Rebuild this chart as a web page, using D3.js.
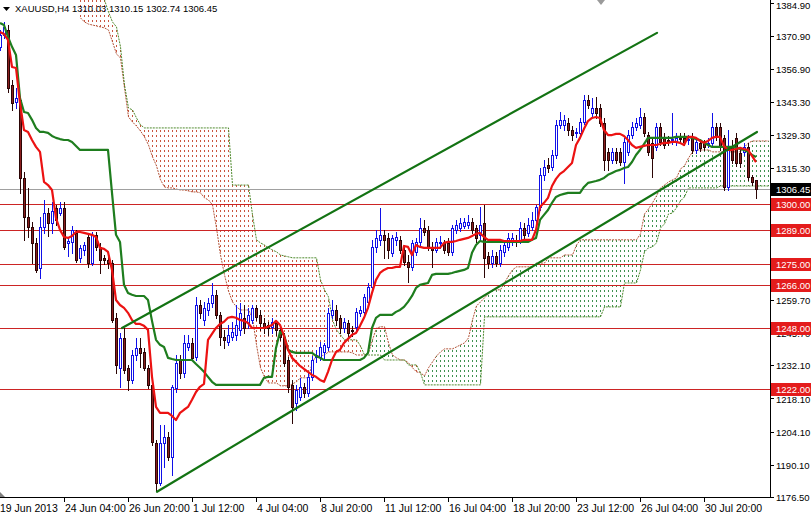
<!DOCTYPE html>
<html><head><meta charset="utf-8">
<script src="https://cdn.jsdelivr.net/npm/d3@7"></script>
<style>html,body{margin:0;padding:0;background:#fff;}svg{display:block;}</style>
</head><body>
<svg id="chart" width="811" height="517"></svg>
<script>
const symbolTitle = "XAUUSD,H4";
const lastOHLC = [1310.03, 1310.15, 1302.74, 1306.45];

const open = [
1366.4,1371.4,1373.5,1350.3,1343.2,1344.0,1311.1,1294.7,1290.4,1283.7,
1273.1,1290.4,1296.3,1292.1,1298.5,1296.3,1298.5,1283.7,1284.1,1287.9,
1277.4,1280.7,1286.2,1275.2,1287.1,1282.0,1277.4,1276.5,1275.2,1252.1,
1231.0,1243.6,1231.0,1225.9,1236.4,1239.4,1237.7,1231.0,1223.8,1199.3,
1182.5,1199.3,1201.9,1193.4,1222.5,1234.3,1228.9,1239.8,1241.5,1235.6,
1257.5,1251.2,1255.4,1258.4,1261.8,1253.3,1244.0,1241.9,1244.0,1244.9,
1247.0,1252.1,1249.9,1251.2,1256.3,1253.3,1249.9,1249.1,1248.3,1249.9,
1247.0,1244.0,1234.3,1223.8,1216.2,1218.7,1223.0,1220.4,1227.2,1235.6,
1235.6,1237.7,1239.8,1253.3,1255.4,1252.1,1247.8,1249.9,1247.0,1248.3,
1254.2,1254.6,1258.8,1265.1,1282.0,1285.0,1287.1,1285.8,1279.5,1285.0,
1285.0,1280.7,1275.7,1273.6,1279.9,1284.1,1290.0,1289.2,1282.0,1280.7,
1283.7,1283.7,1283.7,1279.9,1289.2,1290.0,1290.9,1291.3,1292.5,1290.0,
1287.1,1292.1,1278.2,1275.2,1278.2,1275.2,1279.9,1282.0,1285.0,1285.0,
1285.0,1290.0,1287.9,1290.4,1293.4,1298.9,1312.4,1316.6,1315.7,1320.8,
1333.5,1333.5,1334.3,1331.3,1330.1,1330.1,1334.7,1344.0,1338.5,1340.6,
1340.6,1334.3,1322.1,1318.7,1322.1,1322.1,1317.8,1322.1,1329.2,1332.6,
1333.5,1336.8,1329.2,1325.9,1324.2,1332.6,1328.4,1327.1,1327.1,1326.7,
1328.0,1328.0,1327.1,1328.0,1322.9,1325.9,1325.9,1325.4,1325.9,1332.6,
1332.6,1328.0,1307.3,1324.2,1328.0,1321.6,1322.1,1324.2,1311.5,1310.03];
const high = [
1373.5,1376.9,1375.6,1352.4,1349.1,1344.8,1313.6,1306.9,1292.5,1285.8,
1294.7,1301.8,1298.5,1301.0,1299.7,1301.0,1301.0,1286.2,1290.9,1289.2,
1282.8,1284.1,1287.1,1288.3,1288.3,1283.7,1278.6,1278.2,1276.5,1254.2,
1245.7,1247.8,1232.2,1238.6,1243.6,1243.6,1239.4,1232.2,1223.8,1200.6,
1206.9,1206.9,1204.0,1223.8,1236.4,1236.4,1244.9,1244.9,1243.6,1260.9,
1259.6,1258.8,1260.5,1266.8,1263.9,1254.6,1247.0,1249.1,1250.4,1257.5,
1258.4,1257.5,1256.3,1257.5,1257.5,1255.4,1252.1,1250.4,1252.1,1251.2,
1248.7,1245.7,1235.6,1225.9,1223.8,1226.8,1224.6,1228.9,1236.0,1238.6,
1241.9,1241.5,1256.3,1259.6,1257.5,1253.3,1252.1,1251.2,1248.7,1256.3,
1257.1,1262.2,1266.8,1285.0,1289.2,1298.5,1289.2,1287.9,1287.1,1288.3,
1286.6,1282.8,1278.6,1285.0,1285.8,1294.2,1293.4,1290.9,1284.1,1285.8,
1286.6,1285.0,1285.8,1291.3,1293.4,1294.2,1294.2,1295.5,1294.2,1291.3,
1298.9,1299.7,1279.9,1280.7,1279.9,1282.8,1285.0,1287.9,1287.9,1287.1,
1292.5,1292.1,1294.2,1296.8,1299.7,1315.3,1318.7,1319.5,1322.9,1335.6,
1338.9,1337.7,1336.4,1333.0,1332.2,1336.4,1346.1,1346.1,1344.8,1345.2,
1342.3,1336.4,1323.8,1323.8,1323.8,1323.8,1328.0,1331.3,1334.7,1336.4,
1340.6,1338.5,1330.5,1328.0,1334.3,1334.3,1330.1,1328.8,1338.5,1330.1,
1330.1,1330.1,1329.2,1330.1,1328.0,1327.1,1327.1,1328.0,1338.5,1334.3,
1334.3,1329.2,1331.3,1327.1,1330.1,1323.8,1325.9,1325.9,1312.4,1310.15];
const low = [
1365.1,1370.2,1347.4,1339.8,1340.6,1304.8,1285.0,1286.2,1275.2,1271.5,
1268.9,1287.9,1286.6,1287.9,1291.3,1295.5,1281.2,1278.2,1279.5,1275.7,
1275.7,1278.6,1273.6,1274.4,1280.7,1271.0,1274.8,1273.1,1250.4,1228.9,
1223.0,1228.9,1221.7,1224.6,1234.3,1231.4,1230.1,1222.5,1198.5,1179.5,
1181.6,1189.2,1192.2,1185.8,1220.8,1226.8,1227.2,1238.6,1234.3,1234.3,
1252.1,1249.1,1253.3,1256.7,1252.1,1240.7,1239.4,1240.7,1242.8,1242.8,
1244.9,1245.7,1247.8,1249.9,1251.2,1247.0,1245.7,1244.9,1245.7,1244.9,
1242.8,1231.8,1220.8,1207.8,1213.3,1217.5,1218.7,1219.2,1225.9,1233.5,
1234.3,1234.3,1238.6,1252.1,1249.1,1245.7,1246.2,1244.5,1244.5,1247.0,
1252.9,1253.3,1257.5,1263.9,1279.9,1282.8,1277.4,1277.4,1278.2,1282.8,
1279.5,1274.4,1267.2,1272.3,1278.6,1282.8,1287.1,1280.7,1273.6,1279.9,
1281.6,1279.5,1278.6,1278.6,1287.9,1288.7,1290.0,1290.0,1287.9,1284.1,
1285.0,1269.3,1273.1,1273.6,1274.0,1274.0,1278.2,1280.7,1282.8,1282.4,
1283.7,1285.0,1286.6,1289.2,1292.1,1297.6,1310.3,1313.6,1314.5,1319.5,
1332.2,1331.3,1329.2,1327.1,1328.4,1328.8,1334.0,1340.6,1337.2,1336.4,
1333.0,1314.5,1314.5,1317.4,1317.4,1316.6,1309.0,1320.8,1328.0,1331.3,
1332.2,1328.8,1320.8,1311.5,1322.9,1325.0,1323.8,1325.0,1325.4,1325.0,
1326.3,1325.0,1325.4,1321.6,1321.6,1322.5,1322.9,1324.2,1324.6,1327.1,
1322.9,1306.0,1306.0,1317.4,1316.1,1315.7,1320.8,1310.3,1308.2,1302.74];
const close = [
1371.4,1374.8,1349.1,1342.7,1344.8,1311.1,1294.7,1290.4,1283.7,1272.3,
1290.4,1296.3,1292.1,1297.2,1293.4,1298.5,1282.0,1284.5,1289.2,1276.5,
1281.6,1282.8,1275.2,1287.1,1282.0,1276.5,1276.5,1275.2,1251.2,1232.2,
1243.6,1230.1,1225.9,1236.4,1239.4,1237.3,1231.0,1223.8,1199.8,1182.5,
1199.3,1201.9,1193.4,1223.0,1233.1,1228.9,1241.5,1241.5,1235.2,1257.5,
1254.2,1256.3,1258.4,1261.8,1253.3,1244.0,1242.8,1244.9,1246.2,1249.1,
1254.2,1247.8,1253.3,1256.3,1252.5,1249.9,1247.8,1247.8,1250.4,1247.0,
1244.0,1233.1,1223.0,1214.5,1221.7,1223.0,1220.4,1227.2,1234.3,1236.4,
1239.8,1240.7,1254.2,1255.4,1251.2,1247.8,1250.4,1245.7,1246.6,1254.6,
1255.4,1260.9,1265.1,1282.0,1285.8,1287.1,1285.0,1280.7,1285.8,1286.2,
1280.7,1275.7,1273.6,1283.7,1284.1,1290.0,1288.3,1282.0,1280.7,1284.1,
1284.1,1280.7,1279.9,1290.0,1291.3,1292.1,1292.5,1292.5,1289.2,1285.8,
1291.3,1277.4,1275.2,1278.2,1275.2,1280.7,1282.8,1285.8,1285.8,1284.5,
1290.0,1287.1,1291.3,1293.4,1298.9,1312.4,1315.7,1315.3,1320.8,1333.5,
1335.6,1335.6,1331.3,1329.2,1330.5,1334.7,1344.0,1341.9,1340.6,1338.5,
1334.3,1318.7,1318.7,1322.1,1318.7,1317.8,1326.3,1329.2,1332.6,1334.3,
1336.8,1330.1,1322.1,1319.5,1332.6,1326.3,1325.0,1326.7,1327.5,1328.0,
1327.5,1326.3,1327.5,1322.9,1326.3,1323.8,1324.2,1325.9,1332.6,1328.4,
1324.2,1307.3,1324.2,1318.7,1317.4,1317.4,1324.2,1311.5,1309.4,1306.45];

const tenkan = [
1372.7,1371.8,1369.3,1357.9,1357.5,1342.7,1331.3,1330.5,1327.1,1324.2,
1322.1,1309.4,1308.1,1306.0,1294.2,1289.2,1286.2,1285.8,1286.6,1288.3,
1288.3,1287.9,1287.5,1287.1,1286.2,1281.6,1281.2,1279.9,1272.3,1259.6,
1257.5,1256.3,1254.2,1251.2,1249.5,1249.5,1248.7,1247.0,1227.2,1214.5,
1212.0,1212.0,1212.0,1210.7,1209.0,1212.0,1213.3,1214.5,1217.5,1220.8,
1223.0,1224.2,1242.8,1245.3,1247.8,1249.5,1250.4,1252.1,1252.5,1252.1,
1251.2,1250.8,1249.9,1247.8,1247.8,1247.8,1247.8,1248.3,1249.1,1250.8,
1249.1,1244.5,1238.6,1235.2,1233.5,1231.8,1230.5,1229.3,1228.0,1227.2,
1225.9,1225.1,1229.3,1234.3,1237.7,1238.6,1241.5,1243.2,1244.9,1245.7,
1248.7,1252.1,1256.3,1262.6,1268.1,1271.0,1272.3,1273.1,1273.1,1273.6,
1273.6,1282.4,1282.0,1278.6,1282.8,1282.0,1281.6,1281.6,1281.6,1281.6,
1281.6,1283.7,1284.1,1284.1,1284.5,1285.0,1285.4,1285.8,1286.6,1287.5,
1287.9,1286.2,1285.0,1285.0,1285.0,1285.0,1284.5,1284.5,1284.5,1284.5,
1284.5,1285.0,1285.0,1285.0,1289.2,1298.9,1300.6,1302.7,1307.7,1310.7,
1312.8,1314.0,1315.7,1317.4,1325.0,1328.0,1331.8,1335.1,1336.4,1336.8,
1336.4,1331.3,1329.2,1329.2,1329.7,1329.7,1328.8,1327.1,1325.0,1323.8,
1324.2,1324.6,1325.0,1325.0,1325.0,1325.4,1325.9,1325.9,1326.3,1326.3,
1325.9,1325.0,1328.4,1328.4,1328.0,1326.7,1325.9,1326.7,1328.0,1328.4,
1328.4,1324.6,1322.9,1322.9,1323.3,1323.8,1323.3,1322.9,1320.4,1317.8];
const kijun = [
1376.5,1375.6,1370.6,1366.4,1363.0,1344.8,1338.9,1338.5,1335.6,1332.2,
1330.5,1330.5,1330.1,1328.8,1328.0,1327.5,1327.1,1327.1,1326.3,1324.6,
1322.9,1322.9,1322.9,1322.9,1322.9,1322.9,1322.9,1322.9,1304.8,1287.1,
1284.1,1266.0,1262.6,1261.8,1261.3,1261.3,1261.3,1259.6,1250.8,1242.8,
1240.7,1239.8,1235.2,1234.7,1234.3,1234.3,1234.3,1234.3,1234.3,1232.6,
1231.0,1229.3,1227.2,1225.1,1223.8,1223.8,1223.8,1223.8,1223.8,1223.8,
1223.8,1223.8,1223.8,1223.8,1223.8,1223.8,1226.8,1227.2,1227.2,1239.4,
1246.2,1244.9,1238.6,1237.7,1237.3,1237.3,1237.3,1237.3,1237.3,1236.0,
1235.2,1234.3,1234.3,1234.3,1234.3,1234.3,1234.3,1234.3,1234.3,1234.3,
1234.3,1235.2,1237.3,1247.8,1252.1,1253.3,1253.3,1253.3,1253.3,1254.6,
1255.4,1256.7,1258.8,1261.3,1264.7,1266.0,1266.4,1266.8,1270.2,1270.6,
1270.6,1270.6,1270.6,1271.0,1271.5,1271.9,1272.3,1273.1,1279.5,1282.8,
1284.5,1284.1,1284.1,1284.1,1284.1,1284.1,1284.1,1284.1,1284.1,1284.1,
1284.1,1284.1,1284.1,1285.0,1285.8,1293.4,1295.5,1297.6,1300.6,1303.1,
1303.9,1304.4,1304.8,1304.8,1304.8,1304.8,1307.3,1309.0,1309.4,1309.8,
1310.3,1311.1,1312.4,1313.2,1314.0,1314.5,1315.3,1315.7,1317.8,1320.8,
1322.9,1325.4,1328.0,1328.0,1328.0,1328.0,1328.0,1328.0,1328.0,1328.4,
1328.4,1328.4,1328.4,1328.0,1327.5,1327.1,1325.9,1325.0,1324.2,1324.2,
1324.2,1324.2,1324.2,1324.2,1323.8,1323.3,1322.9,1322.1,1320.8,1319.9];

// Ichimoku cloud, plotted from bar index cloudStart onward (already shifted forward)
const cloudStart = 20;
const spanA = [
1378.6,1376.9,1376.0,1375.6,1375.2,1374.8,1374.4,1373.5,1368.5,1363.4,
1361.7,1349.1,1336.8,1334.7,1333.0,1330.9,1328.4,1325.0,1320.0,1316.2,
1310.3,1307.3,1306.9,1306.9,1306.4,1306.0,1306.0,1305.6,1305.2,1305.2,
1304.8,1302.7,1301.8,1299.7,1290.0,1278.6,1270.2,1263.4,1258.8,1256.7,
1255.4,1255.4,1255.4,1252.1,1240.7,1231.0,1227.2,1224.6,1224.6,1224.6,
1223.4,1223.4,1223.4,1224.2,1225.1,1226.8,1226.8,1226.8,1233.5,1236.0,
1236.0,1236.4,1237.7,1237.7,1237.7,1237.7,1237.7,1237.7,1237.3,1236.4,
1236.4,1236.4,1237.3,1242.8,1247.8,1248.3,1248.3,1241.5,1236.4,1235.2,
1234.3,1234.3,1233.1,1231.0,1229.3,1228.9,1227.6,1231.0,1233.5,1236.0,
1237.7,1239.0,1239.0,1239.0,1239.8,1240.7,1241.5,1243.6,1251.2,1257.1,
1258.8,1260.5,1262.2,1263.9,1263.9,1263.9,1266.8,1269.8,1272.3,1273.6,
1273.6,1273.6,1273.6,1273.6,1275.2,1275.2,1275.2,1277.4,1277.4,1277.4,
1277.4,1278.6,1278.6,1278.6,1282.8,1285.0,1285.0,1285.0,1285.0,1285.0,
1285.0,1285.0,1285.0,1285.0,1285.0,1285.0,1285.0,1285.0,1285.0,1285.0,
1287.5,1295.9,1298.0,1300.6,1303.5,1306.9,1308.1,1309.4,1310.3,1311.1,
1314.9,1316.2,1319.5,1322.1,1322.9,1322.9,1322.9,1322.9,1322.1,1322.1,
1322.1,1322.1,1322.1,1322.1,1322.1,1322.1,1324.2,1325.9,1326.7,1326.7,
1326.7,1326.7,1326.7];
const spanB = [
1403.0,1402.2,1400.9,1398.8,1396.7,1392.5,1386.2,1381.1,1376.9,1374.8,
1366.4,1350.3,1340.6,1339.8,1336.4,1333.5,1332.2,1332.2,1332.2,1332.2,
1332.2,1332.2,1332.2,1332.2,1332.2,1332.2,1332.2,1332.2,1332.2,1332.2,
1332.2,1332.2,1332.2,1332.2,1332.2,1332.2,1332.2,1332.2,1308.1,1308.1,
1308.1,1308.1,1308.1,1295.5,1285.0,1283.7,1282.8,1281.6,1280.7,1279.9,
1278.6,1278.2,1277.8,1277.4,1277.4,1277.4,1277.4,1277.4,1277.4,1277.4,
1268.1,1263.9,1260.9,1251.2,1247.0,1244.9,1242.8,1242.8,1242.8,1242.8,
1240.2,1236.4,1236.4,1236.4,1236.4,1236.4,1234.3,1234.3,1234.3,1234.3,
1234.3,1234.3,1232.2,1232.2,1232.2,1228.9,1223.8,1223.8,1223.8,1223.8,
1223.8,1223.8,1223.8,1223.8,1223.8,1223.8,1223.8,1223.8,1223.8,1223.8,
1223.8,1252.5,1252.5,1252.5,1252.5,1252.5,1252.5,1252.5,1252.5,1252.5,
1252.5,1252.5,1252.5,1252.5,1252.5,1252.5,1252.5,1252.5,1252.5,1252.5,
1252.5,1252.5,1252.5,1252.5,1252.5,1252.5,1252.5,1252.5,1252.5,1252.5,
1252.5,1256.7,1256.7,1256.7,1256.7,1256.7,1266.8,1266.8,1266.8,1266.8,
1272.3,1279.9,1281.6,1282.0,1283.7,1290.0,1291.7,1295.9,1296.3,1298.5,
1301.4,1303.1,1306.9,1306.9,1306.9,1306.9,1306.9,1306.9,1306.9,1306.9,
1307.7,1307.7,1307.7,1307.7,1307.7,1307.7,1307.7,1307.7,1307.7,1307.7,
1307.7,1307.7,1307.7];

const levels = [1300.00, 1289.00, 1275.00, 1266.00, 1248.00, 1222.00];
const priceTicks = [1384.90,1370.90,1356.90,1343.30,1329.30,1315.30,1301.70,1287.70,1273.70,1259.70,1245.70,1232.10,1218.10,1204.10,1190.10,1176.50];
const coveredTicks = [1301.70,1287.70,1273.70];
const dateLabels = ["19 Jun 2013","24 Jun 04:00","26 Jun 20:00","1 Jul 12:00","4 Jul 04:00","8 Jul 20:00","11 Jul 12:00","16 Jul 04:00","18 Jul 20:00","23 Jul 12:00","26 Jul 04:00","30 Jul 20:00"];
const dateBars = [0,16,32,48,64,80,96,112,128,144,160,176];
const trendLines = [
  {i1:30.5, p1:1247.8, i2:164.25, p2:1372.3},
  {i1:39.25, p1:1178.7, i2:189.25, p2:1330.5}
];

const svg = d3.select("#chart");
const PR = 770, PB = 497;
const x = d3.scaleLinear().domain([0, 192.5]).range([0, PR]);
const y = d3.scaleLinear().domain([1176.5, 1384.9]).range([PB, 3]);
const px = v => Math.round(x(v)) + 0.5;
const py = v => Math.round(y(v)) + 0.5;
const priceFont = "'Liberation Sans',Arial,sans-serif";
const dateFont = "'Liberation Sans',Arial,sans-serif";
const PFS = "9.5px";

svg.append("rect").attr("width",811).attr("height",517).attr("fill","#fff");
svg.append("defs").append("clipPath").attr("id","plotclip")
  .append("rect").attr("x",0).attr("y",0).attr("width",PR).attr("height",PB);
const g = svg.append("g").attr("clip-path","url(#plotclip)");

// cloud hatch
const cloud = spanA.map((a,j)=>({k: cloudStart + j, a, b: spanB[j]}));
const RED_H = "#c9553f", GREEN_H = "#3f9150";
g.append("g").selectAll("line").data(cloud).join("line")
  .attr("x1", d=>px(d.k)).attr("x2", d=>px(d.k))
  .attr("y1", d=>Math.min(y(d.a), y(d.b)))
  .attr("y2", d=>Math.max(y(d.a), y(d.b)))
  .attr("stroke", d=> d.a >= d.b ? GREEN_H : RED_H)
  .attr("stroke-width", 1)
  .attr("stroke-dasharray","2,3")
  .attr("stroke-dashoffset", d=> (Math.min(y(d.a), y(d.b)) % 5));
const lineA = d3.line().x(d=>px(d.k)).y(d=>y(d.a));
const lineB = d3.line().x(d=>px(d.k)).y(d=>y(d.b));
g.append("path").datum(cloud).attr("d", lineA).attr("fill","none")
  .attr("stroke","#b4553a").attr("stroke-width",1).attr("stroke-dasharray","2,1");
g.append("path").datum(cloud).attr("d", lineB).attr("fill","none")
  .attr("stroke","#4e8a2c").attr("stroke-width",1).attr("stroke-dasharray","2,1");

// horizontal levels
g.append("g").selectAll("line").data(levels).join("line")
  .attr("x1",0).attr("x2",PR).attr("y1",d=>py(d)).attr("y2",d=>py(d))
  .attr("stroke","#cc2424").attr("stroke-width",1);
// bid line
g.append("line").attr("x1",0).attr("x2",PR)
  .attr("y1",py(lastOHLC[3])).attr("y2",py(lastOHLC[3]))
  .attr("stroke","#a0a0a0").attr("stroke-width",1);

// candles
const bars = open.map((o,i)=>({i, o, h: high[i], l: low[i], c: close[i]}));
const BULL = "#1010e8", BEAR_F = "#8a1e1e", BEAR_S = "#2b0505";
const cg = g.append("g");
cg.selectAll("line").data(bars).join("line")
  .attr("x1", d=>px(d.i)).attr("x2", d=>px(d.i))
  .attr("y1", d=>Math.round(y(d.h))).attr("y2", d=>Math.round(y(d.l))+1)
  .attr("stroke", d=> d.c >= d.o ? BULL : BEAR_S).attr("stroke-width",1);
cg.selectAll("rect").data(bars).join("rect")
  .attr("x", d=>px(d.i)-1)
  .attr("width", 2)
  .attr("y", d=>py(Math.max(d.o,d.c)))
  .attr("height", d=>Math.max(0, py(Math.min(d.o,d.c)) - py(Math.max(d.o,d.c))))
  .attr("fill", d=> d.c >= d.o ? "#ffffff" : BEAR_F)
  .attr("stroke", d=> d.c >= d.o ? BULL : BEAR_S)
  .attr("stroke-width",1);

// indicator lines
const lineI = arr => d3.line().x((d,i)=>x(i)).y(d=>y(d))(arr);
g.append("path").attr("d", lineI(kijun)).attr("fill","none")
  .attr("stroke","#1e7d1e").attr("stroke-width",2.2).attr("stroke-linejoin","round");
g.append("path").attr("d", lineI(tenkan)).attr("fill","none")
  .attr("stroke","#ec1212").attr("stroke-width",2.2).attr("stroke-linejoin","round");

// trend lines
g.append("g").selectAll("line").data(trendLines).join("line")
  .attr("x1", d=>x(d.i1)).attr("y1", d=>y(d.p1))
  .attr("x2", d=>x(d.i2)).attr("y2", d=>y(d.p2))
  .attr("stroke","#137313").attr("stroke-width",2.2).attr("stroke-linecap","round");

// frame
svg.append("line").attr("x1",PR+0.5).attr("x2",PR+0.5).attr("y1",0).attr("y2",PB+1).attr("stroke","#000");
svg.append("line").attr("x1",0).attr("x2",PR+1).attr("y1",PB+0.5).attr("y2",PB+0.5).attr("stroke","#000");

// price axis
svg.append("g").selectAll("line").data(priceTicks).join("line")
  .attr("x1",PR).attr("x2",PR+4).attr("y1",d=>py(d)).attr("y2",d=>py(d)).attr("stroke","#000");
svg.append("g").selectAll("text").data(priceTicks.filter(t=>!coveredTicks.includes(t))).join("text")
  .attr("x",PR+6).attr("y",d=>Math.max(9, Math.round(y(d))+4) + (d===1218.10 ? 1 : 0))
  .attr("font-family",priceFont).attr("font-size",PFS).attr("fill","#000")
  .text(d=>d.toFixed(2));
// level labels
const lv = svg.append("g").selectAll("g").data(levels).join("g");
lv.append("rect").attr("x",PR+1).attr("width",40).attr("y",d=>Math.round(y(d))-6).attr("height",13).attr("fill","#e41c1c");
lv.append("text").attr("x",PR+6).attr("y",d=>Math.round(y(d))+4)
  .attr("font-family",priceFont).attr("font-size",PFS).attr("fill","#fff")
  .text(d=>d.toFixed(2));
// current price label
svg.append("rect").attr("x",PR+1).attr("width",40).attr("y",Math.round(y(lastOHLC[3]))-6).attr("height",13).attr("fill","#000");
svg.append("text").attr("x",PR+6).attr("y",Math.round(y(lastOHLC[3]))+4)
  .attr("font-family",priceFont).attr("font-size",PFS).attr("fill","#fff")
  .text(lastOHLC[3].toFixed(2));

// time axis
svg.append("g").selectAll("line").data(dateBars.slice(1)).join("line")
  .attr("x1",d=>px(d)).attr("x2",d=>px(d)).attr("y1",PB).attr("y2",PB+5).attr("stroke","#000");
svg.append("g").selectAll("text").data(dateLabels).join("text")
  .attr("x",(d,i)=>x(dateBars[i]) + (i===0 ? 0 : 1)).attr("y",512)
  .attr("font-family",dateFont).attr("font-size","10.5px").attr("fill","#000")
  .text(d=>d);

// chart shift markers
svg.append("path").attr("d","M0,492 L0,497 L5,497 Z").attr("fill","#808080");
svg.append("path").attr("d","M597,0 L605,0 L601,5 Z").attr("fill","#9a9a9a");

// header
svg.append("path").attr("d","M3,7 L10,7 L6.5,11 Z").attr("fill","#000");
svg.append("text").attr("x",15).attr("y",12)
  .attr("font-family",priceFont).attr("font-size","9.5px").attr("fill","#000")
  .text(symbolTitle + " " + lastOHLC.map(v=>v.toFixed(2)).join(" "));
</script>
</body></html>
